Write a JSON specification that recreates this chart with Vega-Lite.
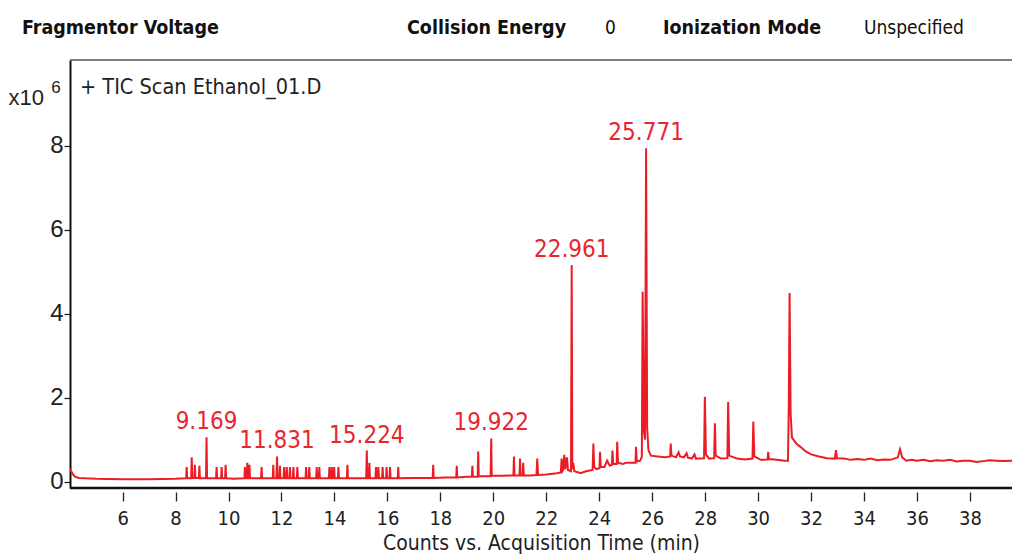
{
  "$schema": "https://vega.github.io/schema/vega-lite/v6.json",
  "autosize": {"type": "none"},
  "padding": {"left": 70, "top": 60, "right": 0, "bottom": 68},
  "width": 942,
  "height": 428,
  "background": "white",
  "config": {"view": {"stroke": null}, "font": "Liberation Sans"},
  "datasets": {
    "tic": [
      {"t": 4.01, "v": 0.30}, {"t": 4.05, "v": 0.26}, {"t": 4.12, "v": 0.18}, {"t": 4.2, "v": 0.12}, {"t": 4.35, "v": 0.09}, {"t": 4.6, "v": 0.08}, {"t": 5.0, "v": 0.07}, {"t": 6.0, "v": 0.06}, {"t": 7.0, "v": 0.06}, {"t": 8.0, "v": 0.07}, {"t": 8.38, "v": 0.08},
      {"t": 8.40, "v": 0.08}, {"t": 8.42, "v": 0.35}, {"t": 8.44, "v": 0.08},
      {"t": 8.59, "v": 0.08}, {"t": 8.61, "v": 0.58}, {"t": 8.63, "v": 0.09},
      {"t": 8.71, "v": 0.09}, {"t": 8.73, "v": 0.40}, {"t": 8.75, "v": 0.09},
      {"t": 8.88, "v": 0.09}, {"t": 8.90, "v": 0.38}, {"t": 8.92, "v": 0.08},
      {"t": 9.15, "v": 0.08}, {"t": 9.169, "v": 1.06}, {"t": 9.19, "v": 0.08},
      {"t": 9.53, "v": 0.08}, {"t": 9.55, "v": 0.35}, {"t": 9.57, "v": 0.08},
      {"t": 9.72, "v": 0.08}, {"t": 9.74, "v": 0.35}, {"t": 9.76, "v": 0.08},
      {"t": 9.87, "v": 0.08}, {"t": 9.89, "v": 0.40}, {"t": 9.91, "v": 0.08},
      {"t": 10.2, "v": 0.07},
      {"t": 10.60, "v": 0.08}, {"t": 10.62, "v": 0.35}, {"t": 10.64, "v": 0.08},
      {"t": 10.69, "v": 0.08}, {"t": 10.71, "v": 0.45}, {"t": 10.73, "v": 0.08},
      {"t": 10.77, "v": 0.08}, {"t": 10.79, "v": 0.40}, {"t": 10.81, "v": 0.08},
      {"t": 11.23, "v": 0.08}, {"t": 11.25, "v": 0.35}, {"t": 11.27, "v": 0.08},
      {"t": 11.67, "v": 0.08}, {"t": 11.69, "v": 0.40}, {"t": 11.71, "v": 0.08},
      {"t": 11.81, "v": 0.08}, {"t": 11.831, "v": 0.60}, {"t": 11.85, "v": 0.08},
      {"t": 11.92, "v": 0.08}, {"t": 11.94, "v": 0.38}, {"t": 11.96, "v": 0.08},
      {"t": 12.08, "v": 0.08}, {"t": 12.10, "v": 0.35}, {"t": 12.12, "v": 0.08},
      {"t": 12.18, "v": 0.08}, {"t": 12.20, "v": 0.35}, {"t": 12.22, "v": 0.08},
      {"t": 12.30, "v": 0.08}, {"t": 12.32, "v": 0.35}, {"t": 12.34, "v": 0.08},
      {"t": 12.43, "v": 0.08}, {"t": 12.45, "v": 0.35}, {"t": 12.47, "v": 0.08},
      {"t": 12.58, "v": 0.08}, {"t": 12.60, "v": 0.35}, {"t": 12.62, "v": 0.08},
      {"t": 12.91, "v": 0.08}, {"t": 12.93, "v": 0.35}, {"t": 12.95, "v": 0.08},
      {"t": 13.03, "v": 0.08}, {"t": 13.05, "v": 0.35}, {"t": 13.07, "v": 0.08},
      {"t": 13.31, "v": 0.08}, {"t": 13.33, "v": 0.35}, {"t": 13.35, "v": 0.08},
      {"t": 13.41, "v": 0.08}, {"t": 13.43, "v": 0.35}, {"t": 13.45, "v": 0.08},
      {"t": 13.79, "v": 0.08}, {"t": 13.81, "v": 0.35}, {"t": 13.83, "v": 0.08},
      {"t": 13.88, "v": 0.08}, {"t": 13.90, "v": 0.35}, {"t": 13.92, "v": 0.08},
      {"t": 13.97, "v": 0.08}, {"t": 13.99, "v": 0.35}, {"t": 14.01, "v": 0.08},
      {"t": 14.13, "v": 0.08}, {"t": 14.15, "v": 0.35}, {"t": 14.17, "v": 0.08},
      {"t": 14.47, "v": 0.08}, {"t": 14.49, "v": 0.40}, {"t": 14.51, "v": 0.08},
      {"t": 15.20, "v": 0.08}, {"t": 15.224, "v": 0.74}, {"t": 15.24, "v": 0.08},
      {"t": 15.30, "v": 0.08}, {"t": 15.32, "v": 0.45}, {"t": 15.34, "v": 0.08},
      {"t": 15.55, "v": 0.08}, {"t": 15.57, "v": 0.35}, {"t": 15.59, "v": 0.08},
      {"t": 15.64, "v": 0.08}, {"t": 15.66, "v": 0.35}, {"t": 15.68, "v": 0.08},
      {"t": 15.80, "v": 0.08}, {"t": 15.82, "v": 0.35}, {"t": 15.84, "v": 0.08},
      {"t": 15.95, "v": 0.08}, {"t": 15.97, "v": 0.35}, {"t": 15.99, "v": 0.08},
      {"t": 16.08, "v": 0.08}, {"t": 16.10, "v": 0.35}, {"t": 16.12, "v": 0.08},
      {"t": 16.39, "v": 0.08}, {"t": 16.41, "v": 0.35}, {"t": 16.43, "v": 0.08},
      {"t": 17.0, "v": 0.09},
      {"t": 17.71, "v": 0.09}, {"t": 17.73, "v": 0.40}, {"t": 17.75, "v": 0.09},
      {"t": 18.2, "v": 0.10},
      {"t": 18.60, "v": 0.10}, {"t": 18.62, "v": 0.38}, {"t": 18.64, "v": 0.10},
      {"t": 19.0, "v": 0.12},
      {"t": 19.19, "v": 0.12}, {"t": 19.21, "v": 0.38}, {"t": 19.23, "v": 0.12},
      {"t": 19.41, "v": 0.12}, {"t": 19.43, "v": 0.72}, {"t": 19.45, "v": 0.13},
      {"t": 19.90, "v": 0.13}, {"t": 19.922, "v": 1.03}, {"t": 19.94, "v": 0.14},
      {"t": 20.3, "v": 0.14},
      {"t": 20.76, "v": 0.15}, {"t": 20.78, "v": 0.60}, {"t": 20.80, "v": 0.15},
      {"t": 20.99, "v": 0.15}, {"t": 21.01, "v": 0.55}, {"t": 21.03, "v": 0.15},
      {"t": 21.11, "v": 0.15}, {"t": 21.13, "v": 0.45}, {"t": 21.15, "v": 0.15},
      {"t": 21.4, "v": 0.15},
      {"t": 21.63, "v": 0.16}, {"t": 21.66, "v": 0.55}, {"t": 21.69, "v": 0.16},
      {"t": 22.0, "v": 0.17}, {"t": 22.4, "v": 0.20},
      {"t": 22.55, "v": 0.22}, {"t": 22.58, "v": 0.55}, {"t": 22.61, "v": 0.25},
      {"t": 22.64, "v": 0.28}, {"t": 22.68, "v": 0.64}, {"t": 22.72, "v": 0.30},
      {"t": 22.78, "v": 0.58}, {"t": 22.82, "v": 0.28},
      {"t": 22.935, "v": 0.25}, {"t": 22.961, "v": 5.16}, {"t": 22.985, "v": 0.30},
      {"t": 23.02, "v": 0.45}, {"t": 23.06, "v": 0.25},
      {"t": 23.3, "v": 0.20}, {"t": 23.5, "v": 0.25},
      {"t": 23.75, "v": 0.28}, {"t": 23.78, "v": 0.91}, {"t": 23.81, "v": 0.35},
      {"t": 23.9, "v": 0.30},
      {"t": 24.01, "v": 0.32}, {"t": 24.03, "v": 0.71}, {"t": 24.06, "v": 0.35},
      {"t": 24.2, "v": 0.35}, {"t": 24.3, "v": 0.50}, {"t": 24.4, "v": 0.38},
      {"t": 24.48, "v": 0.40}, {"t": 24.50, "v": 0.74}, {"t": 24.53, "v": 0.42},
      {"t": 24.66, "v": 0.42}, {"t": 24.68, "v": 0.95}, {"t": 24.71, "v": 0.45},
      {"t": 24.9, "v": 0.42}, {"t": 25.0, "v": 0.45}, {"t": 25.2, "v": 0.45},
      {"t": 25.37, "v": 0.45}, {"t": 25.39, "v": 0.83}, {"t": 25.42, "v": 0.48},
      {"t": 25.55, "v": 0.50},
      {"t": 25.61, "v": 0.60}, {"t": 25.64, "v": 4.52}, {"t": 25.69, "v": 1.20}, {"t": 25.73, "v": 1.00},
      {"t": 25.771, "v": 7.94}, {"t": 25.81, "v": 1.30}, {"t": 25.86, "v": 0.75}, {"t": 25.95, "v": 0.62},
      {"t": 26.2, "v": 0.60}, {"t": 26.5, "v": 0.58},
      {"t": 26.68, "v": 0.60}, {"t": 26.70, "v": 0.91}, {"t": 26.73, "v": 0.62},
      {"t": 26.9, "v": 0.58}, {"t": 27.0, "v": 0.70}, {"t": 27.05, "v": 0.60}, {"t": 27.2, "v": 0.58},
      {"t": 27.3, "v": 0.68}, {"t": 27.35, "v": 0.57}, {"t": 27.5, "v": 0.55}, {"t": 27.6, "v": 0.65}, {"t": 27.65, "v": 0.55},
      {"t": 27.96, "v": 0.56}, {"t": 27.99, "v": 2.02}, {"t": 28.03, "v": 0.65},
      {"t": 28.15, "v": 0.55},
      {"t": 28.34, "v": 0.56}, {"t": 28.37, "v": 1.39}, {"t": 28.40, "v": 0.62},
      {"t": 28.6, "v": 0.55},
      {"t": 28.84, "v": 0.56}, {"t": 28.87, "v": 1.90}, {"t": 28.91, "v": 0.62},
      {"t": 29.2, "v": 0.55}, {"t": 29.5, "v": 0.53},
      {"t": 29.79, "v": 0.55}, {"t": 29.82, "v": 1.43}, {"t": 29.86, "v": 0.60},
      {"t": 30.1, "v": 0.52},
      {"t": 30.36, "v": 0.53}, {"t": 30.38, "v": 0.71}, {"t": 30.41, "v": 0.54},
      {"t": 30.7, "v": 0.52}, {"t": 31.0, "v": 0.50}, {"t": 31.13, "v": 0.50},
      {"t": 31.16, "v": 1.80}, {"t": 31.19, "v": 4.49}, {"t": 31.23, "v": 1.60}, {"t": 31.28, "v": 1.05},
      {"t": 31.45, "v": 0.90}, {"t": 31.6, "v": 0.83}, {"t": 31.8, "v": 0.72}, {"t": 32.0, "v": 0.65}, {"t": 32.3, "v": 0.60},
      {"t": 32.6, "v": 0.56}, {"t": 32.9, "v": 0.55}, {"t": 32.94, "v": 0.75}, {"t": 32.98, "v": 0.56},
      {"t": 33.25, "v": 0.55}, {"t": 33.5, "v": 0.52}, {"t": 33.75, "v": 0.54}, {"t": 34.0, "v": 0.52}, {"t": 34.25, "v": 0.55},
      {"t": 34.5, "v": 0.51}, {"t": 34.75, "v": 0.53}, {"t": 35.0, "v": 0.52},
      {"t": 35.28, "v": 0.58}, {"t": 35.36, "v": 0.77}, {"t": 35.44, "v": 0.58}, {"t": 35.6, "v": 0.50},
      {"t": 35.8, "v": 0.52}, {"t": 36.0, "v": 0.50}, {"t": 36.25, "v": 0.52}, {"t": 36.5, "v": 0.49}, {"t": 36.75, "v": 0.51},
      {"t": 37.0, "v": 0.50}, {"t": 37.25, "v": 0.52}, {"t": 37.5, "v": 0.48}, {"t": 37.75, "v": 0.50}, {"t": 38.0, "v": 0.50},
      {"t": 38.25, "v": 0.47}, {"t": 38.5, "v": 0.49}, {"t": 38.75, "v": 0.51}, {"t": 39.0, "v": 0.50}, {"t": 39.3, "v": 0.49}, {"t": 39.59, "v": 0.50}
    ],
    "peaks": [
      {"t": 9.169, "v": 1.06, "label": "9.169"},
      {"t": 11.831, "v": 0.60, "label": "11.831"},
      {"t": 15.224, "v": 0.74, "label": "15.224"},
      {"t": 19.922, "v": 1.03, "label": "19.922"},
      {"t": 22.961, "v": 5.16, "label": "22.961"},
      {"t": 25.771, "v": 7.94, "label": "25.771"}
    ],
    "headerBold": [
      {"t": 2.2, "v": 10.8, "label": "Fragmentor Voltage"},
      {"t": 16.74, "v": 10.8, "label": "Collision Energy"},
      {"t": 26.41, "v": 10.8, "label": "Ionization Mode"}
    ],
    "headerPlain": [
      {"t": 24.22, "v": 10.8, "label": "0"},
      {"t": 34.0, "v": 10.8, "label": "Unspecified"}
    ],
    "inner": [
      {"t": 4.39, "v": 9.37, "label": "+ TIC Scan Ethanol_01.D"}
    ],
    "exponent": [
      {"t": 3.48, "v": 9.37, "label": "6"}
    ],
    "frame": [
      {"edge": "top", "v": 10.04},
      {"edge": "bottom", "v": -0.15}
    ]
  },
  "layer": [
    {
      "data": {"name": "tic"},
      "mark": {"type": "line", "color": "#ec1c24", "strokeWidth": 2, "clip": true},
      "encoding": {
        "x": {
          "field": "t", "type": "quantitative",
          "scale": {"domain": [4.013, 39.59], "nice": false, "zero": false},
          "axis": {
            "values": [6, 8, 10, 12, 14, 16, 18, 20, 22, 24, 26, 28, 30, 32, 34, 36, 38],
            "domain": false, "grid": false, "offset": 4,
            "ticks": true, "tickSize": 9, "tickColor": "#222", "tickWidth": 1.3,
            "labelFont": "'DejaVu Sans Condensed', 'Liberation Sans', sans-serif", "labelFontSize": 20, "labelColor": "#222", "labelPadding": 7,
            "title": "Counts vs. Acquisition Time (min)",
            "titleFont": "'DejaVu Sans Condensed', 'Liberation Sans', sans-serif", "titleFontSize": 21, "titleFontWeight": "normal", "titleColor": "#222", "titlePadding": 4
          }
        },
        "y": {
          "field": "v", "type": "quantitative",
          "scale": {"domain": [-0.15, 10.04], "nice": false, "zero": false},
          "axis": {
            "values": [0, 2, 4, 6, 8],
            "domain": true, "domainColor": "#111", "domainWidth": 2, "grid": false,
            "ticks": true, "tickSize": 6, "tickColor": "#222", "tickWidth": 1.3,
            "labelFont": "Liberation Sans", "labelFontSize": 24, "labelColor": "#222", "labelPadding": 1,
            "title": "x10", "titleAngle": 0, "titleX": -62, "titleY": 37,
            "titleAlign": "left", "titleBaseline": "middle",
            "titleFont": "Liberation Sans", "titleFontSize": 22, "titleFontWeight": "normal", "titleColor": "#222"
          }
        }
      }
    },
    {
      "data": {"name": "frame"},
      "mark": {"type": "rule", "clip": false},
      "encoding": {
        "y": {"field": "v", "type": "quantitative"},
        "color": {"field": "edge", "type": "nominal", "scale": {"domain": ["top", "bottom"], "range": ["#555555", "#111111"]}, "legend": null},
        "strokeWidth": {"field": "edge", "type": "nominal", "scale": {"domain": ["top", "bottom"], "range": [1.5, 2.5]}, "legend": null}
      }
    },
    {
      "data": {"name": "peaks"},
      "mark": {"type": "text", "align": "center", "baseline": "alphabetic", "dy": -8, "font": "'DejaVu Sans Condensed', 'Liberation Sans', sans-serif", "fontSize": 24, "color": "#e8262d"},
      "encoding": {
        "x": {"field": "t", "type": "quantitative"},
        "y": {"field": "v", "type": "quantitative"},
        "text": {"field": "label"}
      }
    },
    {
      "data": {"name": "headerBold"},
      "mark": {"type": "text", "align": "left", "baseline": "middle", "font": "'DejaVu Sans Condensed', 'Liberation Sans', sans-serif", "fontWeight": "bold", "fontSize": 19.5, "color": "#111"},
      "encoding": {
        "x": {"field": "t", "type": "quantitative"},
        "y": {"field": "v", "type": "quantitative"},
        "text": {"field": "label"}
      }
    },
    {
      "data": {"name": "headerPlain"},
      "mark": {"type": "text", "align": "left", "baseline": "middle", "font": "'DejaVu Sans Condensed', 'Liberation Sans', sans-serif", "fontSize": 19, "color": "#111"},
      "encoding": {
        "x": {"field": "t", "type": "quantitative"},
        "y": {"field": "v", "type": "quantitative"},
        "text": {"field": "label"}
      }
    },
    {
      "data": {"name": "inner"},
      "mark": {"type": "text", "align": "left", "baseline": "middle", "font": "'DejaVu Sans Condensed', 'Liberation Sans', sans-serif", "fontSize": 21.5, "color": "#222"},
      "encoding": {
        "x": {"field": "t", "type": "quantitative"},
        "y": {"field": "v", "type": "quantitative"},
        "text": {"field": "label"}
      }
    },
    {
      "data": {"name": "exponent"},
      "mark": {"type": "text", "align": "center", "baseline": "middle", "font": "Liberation Sans", "fontSize": 17, "color": "#222"},
      "encoding": {
        "x": {"field": "t", "type": "quantitative"},
        "y": {"field": "v", "type": "quantitative"},
        "text": {"field": "label"}
      }
    }
  ]
}
